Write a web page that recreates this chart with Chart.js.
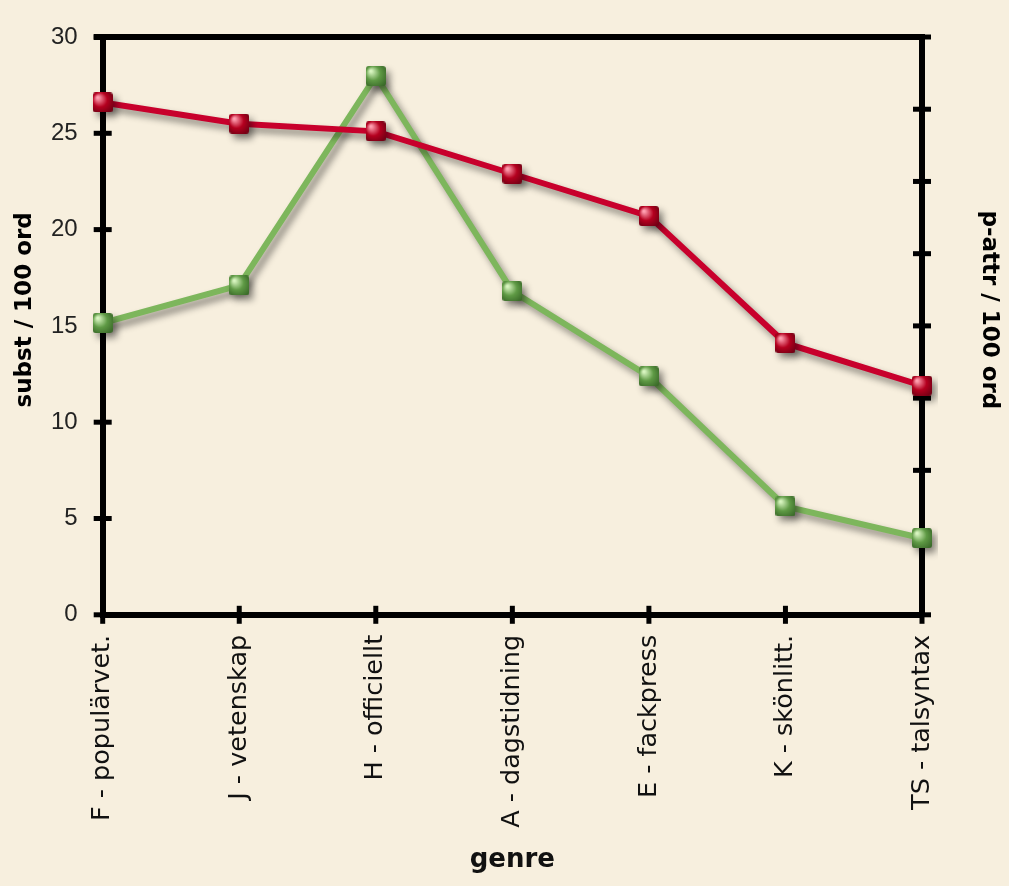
<!DOCTYPE html>
<html>
<head>
<meta charset="utf-8">
<script src="https://cdn.jsdelivr.net/npm/chart.js@4/dist/chart.umd.min.js"></script>
<style>
  html, body { margin: 0; padding: 0; background: #f7efde; }
  #wrap { width: 1009px; height: 886px; position: relative; }
</style>
</head>
<body>
<div id="wrap"><canvas id="chart"></canvas></div>
<script>
// genres along the x axis
const genres = ["F - populärvet.", "J - vetenskap", "H - officiellt", "A - dagstidning", "E - fackpress", "K - skönlitt.", "TS - talsyntax"];
// substantives per 100 words (left axis)
const substValues = [26.6, 25.5, 25.1, 22.9, 20.7, 14.1, 11.9];
// p-attributes per 100 words (right axis, unlabelled)
const pattrValues = [20.2, 22.8, 37.3, 22.4, 16.5, 7.5, 5.3];
const leftTicks = { min: 0, max: 30, step: 5 };
const rightTicks = { min: 0, max: 40, step: 5 };

// little shaded square used as marker
function makeMarker(base, light, dark) {
    const c = document.createElement("canvas");
    c.width = 20; c.height = 20;
    const g = c.getContext("2d");
    const grad = g.createRadialGradient(5, 5, 1, 10, 10, 15);
    grad.addColorStop(0, light);
    grad.addColorStop(0.45, base);
    grad.addColorStop(1, dark);
    g.fillStyle = grad;
    g.beginPath();
    g.roundRect(0, 0, 20, 20, 3);
    g.fill();
    return c;
}

const redMarker = makeMarker("#b5001f", "#ff9fb0", "#5a0010");
const greenMarker = makeMarker("#5f9a45", "#d8f5c0", "#2e5a20");

// frame on top and tick marks crossing the axis lines (under the series)
const framePlugin = {
    id: "frame",
    beforeDatasetsDraw(chart) {
        const ctx = chart.ctx;
        const a = chart.chartArea;
        ctx.save();
        ctx.strokeStyle = "#000";
        ctx.lineWidth = 6;
        ctx.beginPath();
        ctx.moveTo(a.left - 9, a.top);
        ctx.lineTo(a.right + 3, a.top);
        ctx.stroke();
        ctx.lineWidth = 5;
        const half = 9;
        ["y", "y2"].forEach(id => {
            const s = chart.scales[id];
            const x = id === "y" ? a.left : a.right;
            s.ticks.forEach((t, i) => {
                const py = s.getPixelForTick(i);
                ctx.beginPath();
                ctx.moveTo(x - half, py);
                ctx.lineTo(x + half, py);
                ctx.stroke();
            });
        });
        const sx = chart.scales.x;
        sx.ticks.forEach((t, i) => {
            const px = sx.getPixelForTick(i);
            ctx.beginPath();
            ctx.moveTo(px, a.bottom - half);
            ctx.lineTo(px, a.bottom + half);
            ctx.stroke();
        });
        ctx.restore();
    }
};

// drop shadow under lines and markers
const shadowPlugin = {
    id: "shadow",
    beforeDatasetsDraw(chart) {
        const ctx = chart.ctx;
        ctx.save();
        ctx.shadowColor = "rgba(0,0,0,0.45)";
        ctx.shadowBlur = 7;
        ctx.shadowOffsetX = 4;
        ctx.shadowOffsetY = 5;
    },
    afterDatasetsDraw(chart) {
        chart.ctx.restore();
    }
};

const yTickFont = { family: "'Liberation Sans', Arial, sans-serif", size: 24, lineHeight: 1 };
const xTickFont = { family: "'DejaVu Sans', sans-serif", size: 25.5 };
const titleFont = { family: "'DejaVu Sans', sans-serif", size: 23, weight: "bold", lineHeight: 1 };

new Chart(document.getElementById("chart"), {
    type: "line",
    data: {
        labels: genres,
        datasets: [{
            label: "subst / 100 ord",
            data: substValues,
            yAxisID: "y",
            borderColor: "#c8002c",
            borderWidth: 6,
            pointStyle: redMarker,
            pointRadius: 10,
            tension: 0,
            fill: false
        }, {
            label: "p-attr / 100 ord",
            data: pattrValues,
            yAxisID: "y2",
            borderColor: "#7db65c",
            borderWidth: 6,
            pointStyle: greenMarker,
            pointRadius: 10,
            tension: 0,
            fill: false
        }]
    },
    options: {
        responsive: true,
        maintainAspectRatio: false,
        animation: false,
        layout: { padding: { left: 8, right: 2, top: 22, bottom: 4 } },
        plugins: {
            legend: { display: false },
            tooltip: { enabled: false }
        },
        scales: {
            x: {
                offset: false,
                grid: { display: false, drawTicks: false },
                border: { display: true, color: "#000", width: 6 },
                ticks: {
                    color: "#111",
                    font: xTickFont,
                    minRotation: 90,
                    maxRotation: 90,
                    padding: 20,
                    autoSkip: false
                },
                title: { display: true, text: "genre", color: "#111", font: { ...titleFont, size: 26, lineHeight: 1.2 }, padding: { top: -3, bottom: 6 } }
            },
            y: {
                position: "left",
                min: leftTicks.min,
                max: leftTicks.max,
                grid: { display: false, drawTicks: false },
                border: { display: true, color: "#000", width: 6 },
                ticks: { stepSize: leftTicks.step, color: "#222", font: yTickFont, padding: 25 },
                title: { display: true, text: "    subst / 100 ord", color: "#000", font: titleFont, padding: { top: 6, bottom: -11 } }
            },
            y2: {
                position: "right",
                min: rightTicks.min,
                max: rightTicks.max,
                grid: { display: false, drawTicks: false },
                border: { display: true, color: "#000", width: 6 },
                ticks: { stepSize: rightTicks.step, display: false },
                title: { display: true, text: "p-attr / 100 ord    ", color: "#000", font: titleFont, padding: { top: 7, bottom: 55 } }
            }
        }
    },
    plugins: [framePlugin, shadowPlugin]
});
</script>
</body>
</html>
